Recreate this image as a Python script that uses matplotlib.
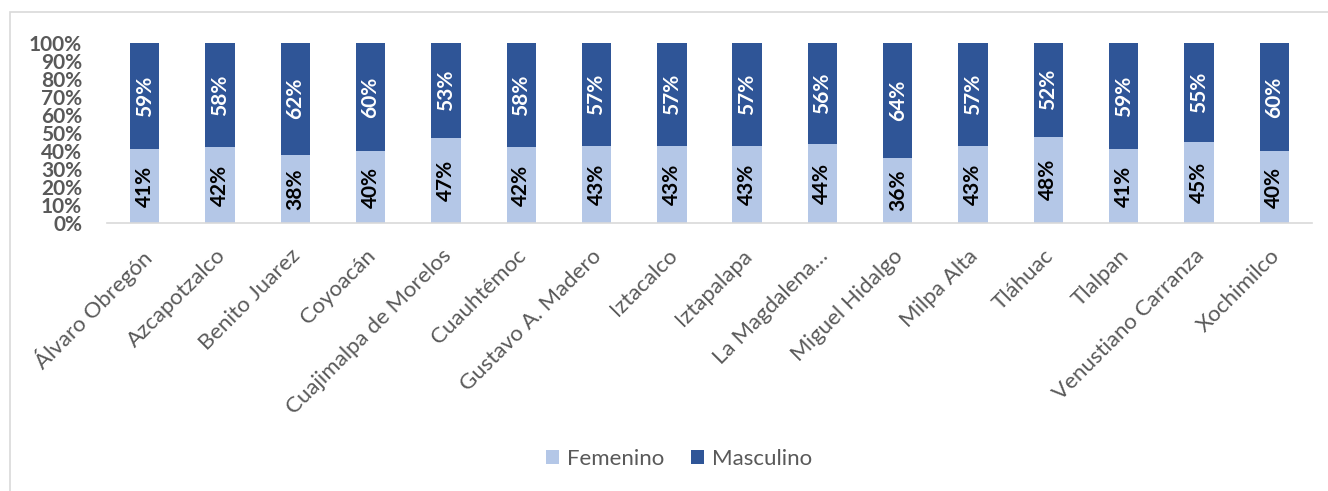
import matplotlib
matplotlib.use("Agg")
import matplotlib.pyplot as plt
import matplotlib.transforms as mtransforms
import numpy as np
from matplotlib.patches import Rectangle

categories = ["Álvaro Obregón", "Azcapotzalco", "Benito Juarez", "Coyoacán",
              "Cuajimalpa de Morelos", "Cuauhtémoc", "Gustavo A. Madero", "Iztacalco",
              "Iztapalapa", "La Magdalena…", "Miguel Hidalgo", "Milpa Alta",
              "Tláhuac", "Tlalpan", "Venustiano Carranza", "Xochimilco"]
femenino = [41, 42, 38, 40, 47, 42, 43, 43, 43, 44, 36, 43, 48, 41, 45, 40]
masculino = [59, 58, 62, 60, 53, 58, 57, 57, 57, 56, 64, 57, 52, 59, 55, 60]
yticks = [0, 10, 20, 30, 40, 50, 60, 70, 80, 90, 100]

plt.rcParams['font.family'] = ['Lato', 'DejaVu Sans']
C_F = '#B4C7E7'
C_M = '#2F5597'
GRAY = '#595959'

W, H = 1328, 491
fig = plt.figure(figsize=(W / 100, H / 100), dpi=100)
fig.patches.append(Rectangle((10 / W, 0 - 0.1), 1.2, (H - 12) / H + 0.1, transform=fig.transFigure,
                             fill=False, edgecolor='#D9D9D9', linewidth=1.2))
ax = fig.add_axes([107 / W, (H - 223) / H, 1205 / W, 180 / H])

x = np.arange(len(categories))
bw = 0.39
tot = np.array(femenino) + np.array(masculino)
fp = np.array(femenino) / tot * 100
mp = np.array(masculino) / tot * 100
b1 = ax.bar(x, fp, bw, color=C_F, label='Femenino')
b2 = ax.bar(x, mp, bw, bottom=fp, color=C_M, label='Masculino')

for i in range(len(x)):
    ax.text(x[i], fp[i] / 2, f"{femenino[i]}%", rotation=90, ha='center', va='center',
            fontsize=15, fontweight='bold', color='black')
    ax.text(x[i], fp[i] + mp[i] / 2, f"{masculino[i]}%", rotation=90, ha='center', va='center',
            fontsize=15, fontweight='bold', color='white')

ax.set_xlim(-0.5, len(x) - 0.5)
ax.set_ylim(0, 100)
ax.set_yticks(yticks)
ax.set_yticklabels([f"{t}%" for t in yticks], fontsize=15, fontweight='bold', color=GRAY)
ax.set_xticks(x)
ax.set_xticklabels(categories, rotation=45, ha='right', rotation_mode='anchor',
                   fontsize=16, color=GRAY)
ax.tick_params(axis='both', length=0)
ax.tick_params(axis='x', pad=12)
ax.tick_params(axis='y', pad=18)
offset = mtransforms.ScaledTranslation(-5 / 100, -6 / 100, fig.dpi_scale_trans)
for lbl in ax.get_xticklabels():
    lbl.set_transform(lbl.get_transform() + offset)
for s in ['top', 'right', 'left']:
    ax.spines[s].set_visible(False)
ax.spines['bottom'].set_color('#D9D9D9')
ax.spines['bottom'].set_linewidth(1.2)

leg = fig.legend(handles=[b1, b2], labels=['Femenino', 'Masculino'], loc='center',
                 bbox_to_anchor=(679 / W, (H - 459) / H), ncol=2, frameon=False,
                 fontsize=16, handlelength=0.6, handleheight=0.6, columnspacing=1.2,
                 handletextpad=0.35)
for t in leg.get_texts():
    t.set_color(GRAY)

fig.savefig('out.png', dpi=100)
